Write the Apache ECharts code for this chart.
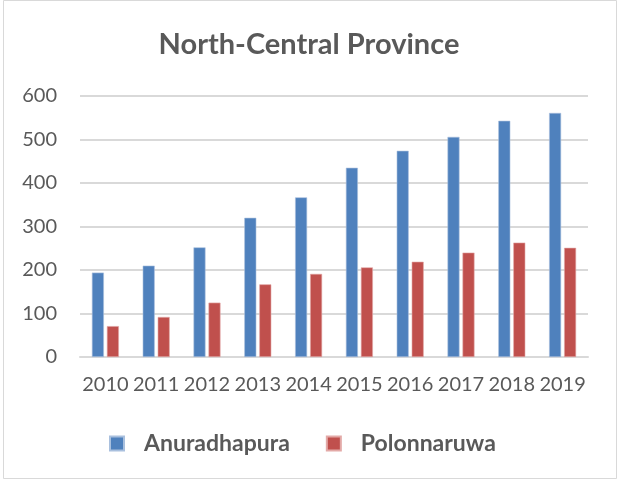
<!DOCTYPE html>
<html>
<head>
<meta charset="utf-8">
<script src="https://cdn.jsdelivr.net/npm/echarts@6/dist/echarts.min.js"></script>
<style>
html,body{margin:0;padding:0;background:#fff;}
#main{width:618px;height:480px;}
</style>
</head>
<body>
<div id="main"></div>
<script>
var years = ['2010','2011','2012','2013','2014','2015','2016','2017','2018','2019'];
var anuradhapura = [194, 210, 252, 320, 367, 435, 474, 506, 543, 561];
var polonnaruwa = [71, 92, 125, 167, 191, 206, 219, 240, 263, 251];
var yTicks = [0, 100, 200, 300, 400, 500, 600];

var dom = document.getElementById('main');
var myChart = echarts.init(dom);
var txt = '#595959';
var fnt = 'Lato';

var option = {
	backgroundColor: '#fff',
	animation: false,
	title: {
		text: 'North-Central Province',
		left: 'center',
		top: 25,
		textStyle: { fontFamily: fnt, fontSize: 29, fontWeight: 'bold', color: txt }
	},
	legend: {
		data: ['Anuradhapura', 'Polonnaruwa'],
		bottom: 20,
		left: 104,
		icon: 'rect',
		itemWidth: 14,
		itemHeight: 14,
		itemGap: 36,
		textStyle: { fontFamily: fnt, fontSize: 23, fontWeight: 'bold', color: txt, padding: [0, 0, 0, 15] }
	},
	grid: { left: 80, right: 30, top: 96, bottom: 123 },
	xAxis: [{
		type: 'category',
		data: years,
		axisLine: { show: true, lineStyle: { color: '#d9d9d9', width: 2 } },
		axisTick: { show: false },
		axisLabel: { interval: 0, fontFamily: fnt, fontSize: 20, color: txt, margin: 18 }
	}],
	yAxis: [{
		type: 'value',
		min: yTicks[0],
		max: yTicks[yTicks.length - 1],
		interval: 100,
		axisLine: { show: false },
		axisTick: { show: false },
		splitLine: { lineStyle: { color: '#d9d9d9', width: 2 } },
		axisLabel: { fontFamily: fnt, fontSize: 20, color: txt, margin: 23 }
	}],
	series: [{
		name: 'Anuradhapura',
		type: 'bar',
		data: anuradhapura,
		barWidth: 12,
		barGap: '25%',
		itemStyle: { color: '#4f81bd', borderColor: '#a9c0de', borderWidth: 0.6 }
	}, {
		name: 'Polonnaruwa',
		type: 'bar',
		data: polonnaruwa,
		barWidth: 12,
		itemStyle: { color: '#c0504d', borderColor: '#e3a9a7', borderWidth: 0.6 }
	}],
	graphic: [{
		type: 'rect',
		shape: { x: 3.5, y: 0.5, width: 613, height: 478 },
		style: { fill: 'none', stroke: '#d9d9d9', lineWidth: 1 },
		silent: true
	}]
};
if (option && typeof option === "object") {
	myChart.setOption(option, true);
}
</script>
</body>
</html>
